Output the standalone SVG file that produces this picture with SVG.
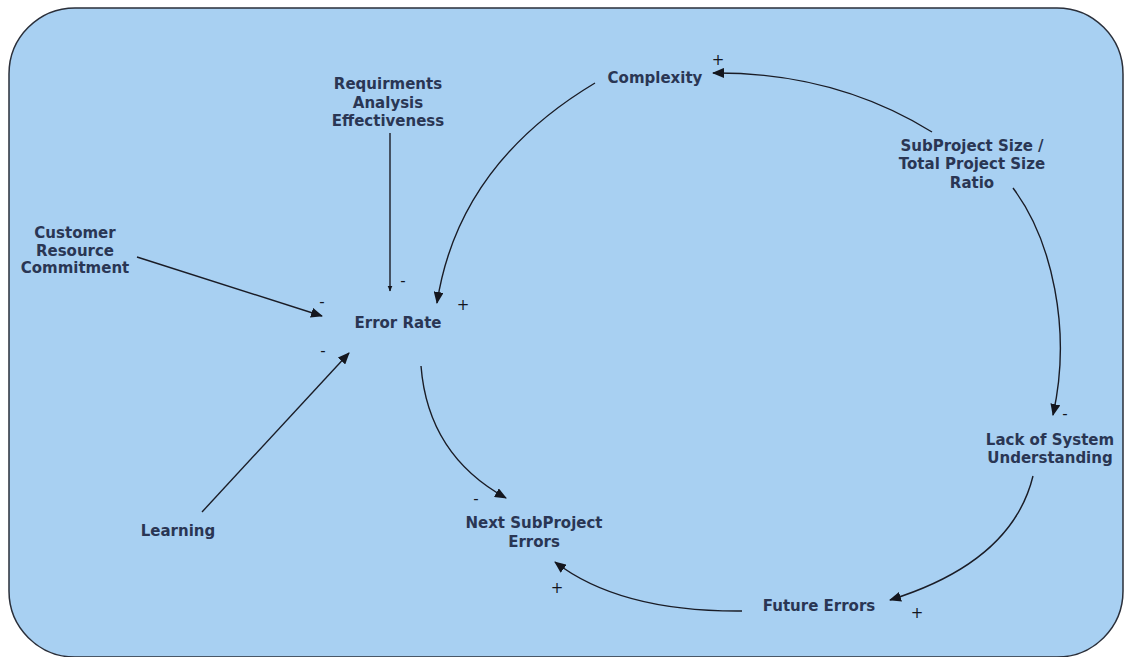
<svg xmlns="http://www.w3.org/2000/svg" width="1125" height="657" viewBox="0 0 1125 657">
  <defs>
    <marker id="arrow" viewBox="0 0 12 10" refX="11" refY="5" markerWidth="12" markerHeight="10" markerUnits="userSpaceOnUse" orient="auto">
      <path d="M0,0 L12,5 L0,10 Z" fill="#14161e"/>
    </marker>
    <marker id="arrowSmall" viewBox="0 0 12 10" refX="11" refY="5" markerWidth="6" markerHeight="6" markerUnits="userSpaceOnUse" orient="auto">
      <path d="M0,0 L12,5 L0,10 Z" fill="#14161e"/>
    </marker>
    <style>
      .label { font-family: "DejaVu Sans", Verdana, sans-serif; font-size: 15px; font-weight: bold; fill: #2a3654; text-anchor: middle; }
      .sign { font-family: "DejaVu Sans", sans-serif; font-size: 15px; fill: #14161e; text-anchor: middle; }
      .link { fill: none; stroke: #1a1c26; stroke-width: 1.4; marker-end: url(#arrow); }
    </style>
  </defs>

  <rect width="1125" height="657" fill="#ffffff"/>
  <!-- panel -->
  <rect x="9" y="8" width="1114" height="649" rx="66" ry="66" fill="#a8d0f2" stroke="#2a2f3a" stroke-width="1.5"/>

  <!-- connectors -->
  <g id="connectors">
    <path class="link" d="M137,257 L322,316"/>
    <path class="link" d="M202,512 L349,353"/>
    <path class="link" d="M390,133 L390,291" style="marker-end:url(#arrowSmall)"/>
    <path class="link" d="M595,83 Q458,165 437,303"/>
    <path class="link" d="M932,132 Q835,72 713,73"/>
    <path class="link" d="M1013,188 C1052,240 1072,330 1053,415"/>
    <path class="link" d="M1033,476 Q1012,562 890,600"/>
    <path class="link" d="M742,611 Q620,612 555,562"/>
    <path class="link" d="M421,366 Q428,455 506,498"/>
  </g>

  <!-- polarity signs -->
  <g id="signs">
    <text class="sign" x="718" y="65">+</text>
    <text class="sign" x="403" y="286">-</text>
    <text class="sign" x="463" y="310">+</text>
    <text class="sign" x="322" y="307">-</text>
    <text class="sign" x="323" y="356">-</text>
    <text class="sign" x="1065" y="419">-</text>
    <text class="sign" x="476" y="504">-</text>
    <text class="sign" x="557" y="593">+</text>
    <text class="sign" x="917" y="618">+</text>
  </g>

  <!-- nodes -->
  <g id="node-requirements">
    <text class="label" x="388" y="89">Requirments</text>
    <text class="label" x="388" y="108">Analysis</text>
    <text class="label" x="388" y="126">Effectiveness</text>
  </g>
  <g id="node-complexity">
    <text class="label" x="655" y="83">Complexity</text>
  </g>
  <g id="node-size-ratio">
    <text class="label" x="972" y="151">SubProject Size /</text>
    <text class="label" x="972" y="169">Total Project Size</text>
    <text class="label" x="972" y="188">Ratio</text>
  </g>
  <g id="node-customer">
    <text class="label" x="75" y="238">Customer</text>
    <text class="label" x="75" y="256">Resource</text>
    <text class="label" x="75" y="273">Commitment</text>
  </g>
  <g id="node-error-rate">
    <text class="label" x="398" y="328">Error Rate</text>
  </g>
  <g id="node-learning">
    <text class="label" x="178" y="536">Learning</text>
  </g>
  <g id="node-next-errors">
    <text class="label" x="534" y="528">Next SubProject</text>
    <text class="label" x="534" y="547">Errors</text>
  </g>
  <g id="node-lack-understanding">
    <text class="label" x="1050" y="445">Lack of System</text>
    <text class="label" x="1050" y="463">Understanding</text>
  </g>
  <g id="node-future-errors">
    <text class="label" x="819" y="611">Future Errors</text>
  </g>
</svg>
